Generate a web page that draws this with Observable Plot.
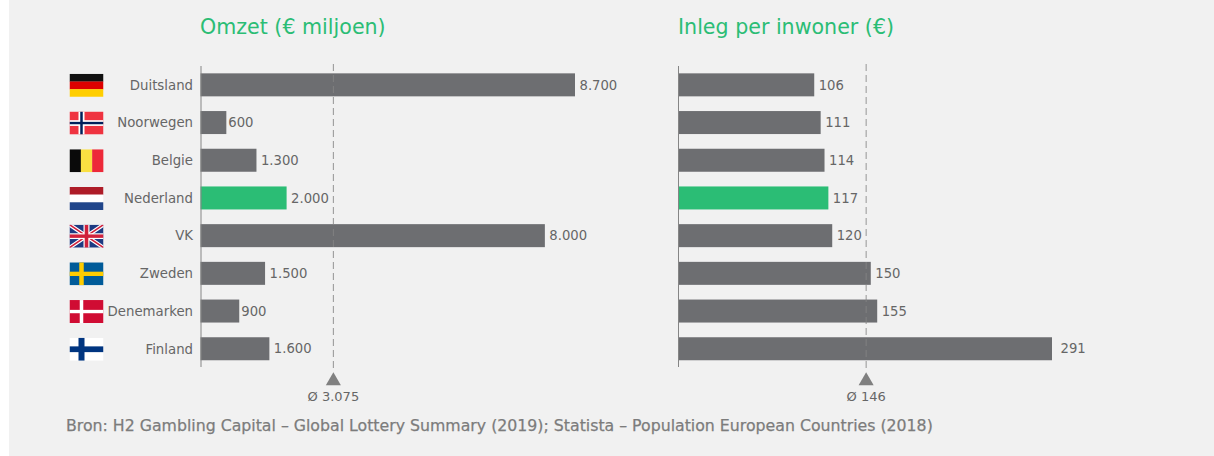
<!DOCTYPE html>
<html><head><meta charset="utf-8">
<script src="https://cdn.jsdelivr.net/npm/d3@7"></script>
<script src="https://cdn.jsdelivr.net/npm/@observablehq/plot@0.6"></script>
<style>
html,body{margin:0;padding:0;background:#fff;}
#page{position:relative;width:1214px;height:456px;overflow:hidden;font-family:"DejaVu Sans",sans-serif;}
#bg{position:absolute;left:9px;top:0;width:1205px;height:456px;background:#f1f1f1;}
.plot{position:absolute;top:0;}
.plot svg{background:transparent;display:block;}
.title{position:absolute;top:15px;margin:0;font-weight:400;font-size:20.6px;color:#2bbd75;white-space:nowrap;}
#caption{position:absolute;left:66px;top:416px;font-size:15.75px;color:#7c7c7c;white-space:nowrap;-webkit-text-stroke:0.25px #7c7c7c;}
</style></head><body>
<div id="page"><div id="bg"></div>
<h2 class="title" style="left:200px">Omzet (€ miljoen)</h2>
<h2 class="title" style="left:678px">Inleg per inwoner (€)</h2>
<div id="left" class="plot" style="left:0"></div>
<div id="right" class="plot" style="left:640px"></div>
<div id="caption">Bron: H2 Gambling Capital – Global Lottery Summary (2019); Statista – Population European Countries (2018)</div>
</div>
<script>
const countries = ["Duitsland","Noorwegen","Belgie","Nederland","VK","Zweden","Denemarken","Finland"];
const omzet = [8700,600,1300,2000,8000,1500,900,1600];
const inleg = [106,111,114,117,120,150,155,291];
const omzetMean = 3075;
const inlegMean = 146;
const highlight = "Nederland";

const GREY="#6d6e71", GREEN="#2bbd75", TXT="#666666", LINE="#858585";
const fmt = d3.formatLocale({decimal:",",thousands:".",grouping:[3],currency:["€",""]}).format(",d");

const stripesH = cs => cs.map((c,i)=>`<rect x="0" y="${i*24/cs.length}" width="34" height="${24/cs.length+.2}" fill="${c}"/>`).join("");
const stripesV = cs => cs.map((c,i)=>`<rect y="0" x="${i*34/cs.length}" height="24" width="${34/cs.length+.2}" fill="${c}"/>`).join("");
const cross = (bg,c,w,inner,iw) => `<rect width="34" height="24" fill="${bg}"/><rect x="${12-w/2}" width="${w}" height="24" fill="${c}"/><rect y="${12-w/2}" width="34" height="${w}" fill="${c}"/>`+
  (inner?`<rect x="${12-iw/2}" width="${iw}" height="24" fill="${inner}"/><rect y="${12-iw/2}" width="34" height="${iw}" fill="${inner}"/>`:"");
const flags = {
  Duitsland: stripesH(["#111111","#dd0000","#ffce00"]),
  Noorwegen: cross("#ef3340","#ffffff",6,"#00205b",2.5),
  Belgie: stripesV(["#0a0a0a","#fae042","#ed2939"]),
  Nederland: stripesH(["#ae1c28","#ffffff","#21468b"]),
  VK: `<rect width="34" height="24" fill="#1d3a82"/><path d="M0 0L34 24M34 0L0 24" stroke="#fff" stroke-width="4"/><path d="M0 0L34 24M34 0L0 24" stroke="#d0213c" stroke-width="1.6"/><rect x="14" width="6" height="24" fill="#fff"/><rect y="9" width="34" height="6" fill="#fff"/><rect x="15.2" width="3.6" height="24" fill="#d0213c"/><rect y="10.2" width="34" height="3.6" fill="#d0213c"/>`,
  Zweden: cross("#005b99","#fecc00",4.5),
  Denemarken: cross("#d00c33","#ffffff",3.5),
  Finland: cross("#ffffff","#003580",6)
};
const flagUri = c => "data:image/svg+xml;utf8,"+encodeURIComponent(`<svg xmlns="http://www.w3.org/2000/svg" viewBox="0 0 34 24" width="34" height="24" preserveAspectRatio="none">${flags[c]}</svg>`);

function panel({values, mean, marginLeft, width, xMax, x0, x1, showLabels, meanLabel, tight, wide}) {
  const rows = countries.map((c,i)=>({c,v:values[i]}));
  const plain = rows.filter(r=>!tight.includes(r.c)&&!wide.includes(r.c));
  const lbl = (data,dx)=>Plot.text(data,{x:"v",y:"c",text:d=>fmt(d.v),textAnchor:"start",dx,fill:TXT,fontSize:13.2});
  return Plot.plot({
    width, height:456, marginLeft, marginRight:0, marginTop:64, marginBottom:84,
    style:{background:"transparent",fontFamily:'"DejaVu Sans",sans-serif',overflow:"visible"},
    x:{domain:[0,xMax],range:[x0,x1],axis:null},
    y:{domain:countries,range:[66,367.6],paddingInner:0.39,paddingOuter:0.195,round:false,axis:null},
    marks:[
      Plot.barX(rows,{x:"v",y:"c",fill:d=>d.c===highlight?GREEN:GREY}),
      Plot.ruleX([mean],{stroke:LINE,strokeWidth:1,strokeDasharray:"7,4",strokeOpacity:0.85}),
      Plot.ruleX([0],{stroke:LINE,strokeWidth:1,insetTop:2,insetBottom:5}),
      lbl(plain,4), lbl(rows.filter(r=>tight.includes(r.c)),1.5), lbl(rows.filter(r=>wide.includes(r.c)),8),
      Plot.dot([mean],{x:d=>d,frameAnchor:"top",dy:316.5,symbol:"triangle",r:5.6,fill:"#808080"}),
      Plot.text([meanLabel],{x:()=>mean,frameAnchor:"top",dy:332,text:d=>d,fill:TXT,fontSize:13,dy:327}),
      showLabels?Plot.axisY({anchor:"left",tickSize:0,tickPadding:8,fontSize:13.3,color:TXT,label:null}):null,
      showLabels?Plot.image(countries,{y:d=>d,frameAnchor:"left",dx:-114.5,width:34,height:23,src:flagUri,preserveAspectRatio:"none"}):null
    ]
  });
}
document.getElementById("left").append(panel({values:omzet,mean:omzetMean,marginLeft:200.5,width:640,xMax:8700,x0:200.5,x1:575,showLabels:true,meanLabel:"Ø "+fmt(omzetMean),tight:["Noorwegen","Denemarken"],wide:[]}));
document.getElementById("right").append(panel({values:inleg,mean:inlegMean,marginLeft:38,width:574,xMax:291,x0:38,x1:412,showLabels:false,meanLabel:"Ø "+fmt(inlegMean),tight:[],wide:["Finland"]}));
</script>
</body></html>
